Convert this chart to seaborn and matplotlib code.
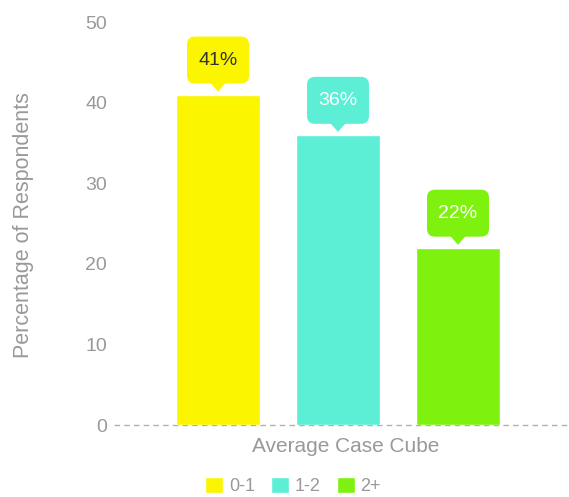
import matplotlib
matplotlib.use("Agg")
import matplotlib.pyplot as plt
import seaborn as sns
import pandas as pd
from matplotlib.patches import FancyBboxPatch, Polygon

# Survey data
category = "Average Case Cube"
groups = ["0-1", "1-2", "2+"]
values = [41, 36, 22]
colors = ["#FCF500", "#5CEFD6", "#7FF10F"]
label_colors = ["#333333", "#FFFFFF", "#FFFFFF"]
yticks = [0, 10, 20, 30, 40, 50]

sns.set_theme(style="white")
plt.rcParams["font.family"] = ["Liberation Sans", "DejaVu Sans"]

GREY = "#999999"
W, H = 569, 497
fig = plt.figure(figsize=(W / 100, H / 100), dpi=100)
ax_left, ax_bottom, ax_right, ax_top = 114, 425, 569, 22
ax = fig.add_axes([ax_left / W, (H - ax_bottom) / H,
                   (ax_right - ax_left) / W, (ax_bottom - ax_top) / H])

df = pd.DataFrame({"case": [category] * len(groups), "group": groups, "pct": values})
px_per_unit = ax_right - ax_left
sns.barplot(data=df, x="case", y="pct", hue="group", palette=colors,
            width=360 / px_per_unit, gap=0.3, saturation=1, ax=ax, legend=True)

center_px = 338
left_units = (center_px - ax_left) / px_per_unit
ax.set_xlim(-left_units, 1 - left_units)
ax.set_ylim(0, 50)
ax.set_yticks(yticks)
ax.tick_params(axis="y", length=0, pad=5, labelsize=14, labelcolor=GREY)
ax.tick_params(axis="x", length=0, labelbottom=False)
for s in ax.spines.values():
    s.set_visible(False)
ax.axhline(0, color="#b0b0b0", lw=1, ls=(0, (4, 3)), zorder=0, clip_on=False)

ax.set_ylabel("Percentage of Respondents", fontsize=15.5, color=GREY)
ax.yaxis.label.set_va("center")
ax.yaxis.set_label_coords((24 - ax_left) / px_per_unit, (ax_bottom - 225) / (ax_bottom - ax_top))
ax.set_xlabel(category, fontsize=15, color=GREY)
ax.xaxis.label.set_va("center")
ax.xaxis.set_label_coords((346 - ax_left) / px_per_unit, (ax_bottom - 446) / (ax_bottom - ax_top))

# Callout bubbles above each bar
fig.canvas.draw()
bars = [p for p in ax.patches if p.get_height() > 0]
bars.sort(key=lambda p: p.get_x())
bw, bh, tri_h, tri_w, gap_px, r = 62, 47, 8, 8, 3, 8
for bar, val, col, tcol in zip(bars, values, colors, label_colors):
    cx = bar.get_x() + bar.get_width() / 2
    x_px, y_px = ax.transData.transform((cx, val))
    tip = y_px + gap_px
    base = tip + tri_h
    box = FancyBboxPatch((x_px - bw / 2 + r, base + r), bw - 2 * r, bh - 2 * r,
                         boxstyle=f"round,pad={r}", facecolor=col, edgecolor="none",
                         transform=None, clip_on=False)
    tri = Polygon([(x_px - tri_w, base + 1), (x_px + tri_w, base + 1), (x_px, tip)],
                  closed=True, facecolor=col, edgecolor="none", transform=None,
                  clip_on=False)
    fig.add_artist(box)
    fig.add_artist(tri)
    fig.text(x_px / W, (base + bh / 2) / H, f"{val}%", ha="center", va="center",
             fontsize=14, color=tcol)

sns.move_legend(ax, "center", bbox_to_anchor=(293 / W, (H - 486) / H),
                bbox_transform=fig.transFigure, ncol=3, frameon=False, title=None,
                fontsize=13, handlelength=1.0, handleheight=1.0, handletextpad=0.3,
                columnspacing=0.9, borderpad=0, borderaxespad=0)
for t in ax.get_legend().get_texts():
    t.set_color(GREY)

fig.savefig("out.png", dpi=100)
